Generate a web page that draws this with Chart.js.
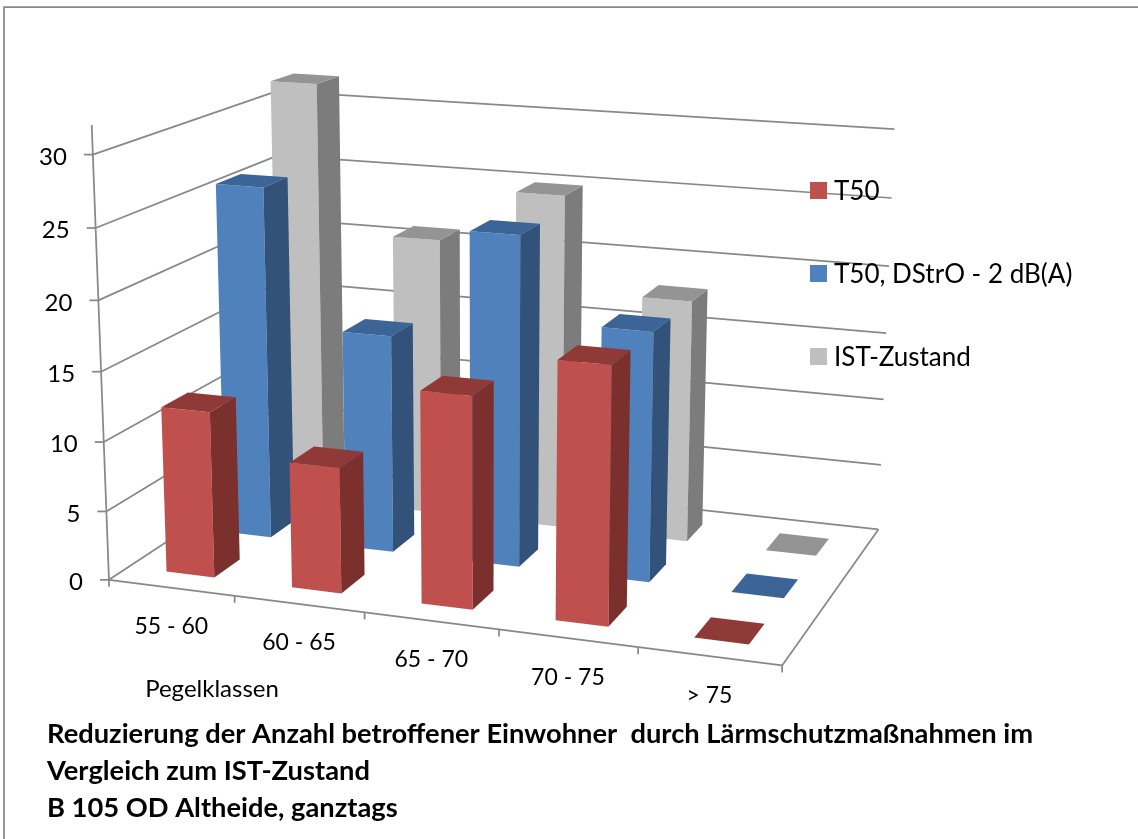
<!DOCTYPE html>
<html>
<head>
<meta charset="utf-8">
<title>Pegelklassen</title>
<script src="https://cdn.jsdelivr.net/npm/chart.js@4"></script>
<style>
  html, body { margin: 0; padding: 0; background: #fff; }
  canvas { display: block; }
</style>
</head>
<body>
<canvas id="myChart" width="1138" height="839"></canvas>
<script>
// categories and series
var categories = ['55 - 60', '60 - 65', '65 - 70', '70 - 75', '> 75'];
var t50 = [12, 9, 15, 18, 0];
var t50Dstro = [26, 16, 24, 18, 0];
var istZustand = [32, 21, 25, 18, 0];
var yTicks = [0, 5, 10, 15, 20, 25, 30];
var yMax = 32;
var titleLines = [
    'Reduzierung der Anzahl betroffener Einwohner  durch Lärmschutzmaßnahmen im',
    'Vergleich zum IST-Zustand',
    'B 105 OD Altheide, ganztags'
];

// face colours: front, side, top
var red = ['#C0504D', '#7C302E', '#8F3A37'];
var blue = ['#4F81BD', '#325279', '#3C6496'];
var grey = ['#BFBFBF', '#7C7C7C', '#949494'];
var lineColor = '#888888';
var fontName = 'Lato, "Noto Sans", sans-serif';

// depth of each series on the floor, 0 = front edge, 1 = back wall
var depthCentres = [0.17, 0.49, 0.815];
var depthHalf = 0.07;

// camera calibration: [along, depth, height] -> [screen x, screen y]
var h30 = 30 / yMax;
var calib = [
    [0, 0, 0, 109, 578], [1, 0, 0, 783, 666], [1, 1, 0, 878, 529], [0, 1, 0, 284, 466],
    [0, 0, h30, 92, 156], [1, 1, h30, 894, 129], [0, 1, h30, 278, 90]
];

// least squares for the 3x4 projection matrix
function solveCamera(pts) {
    var n = 11, A = [], i, j, k;
    for (i = 0; i < n; i++) { A.push(new Array(n + 1).fill(0)); }
    function addRow(r, b) {
        for (var a = 0; a < n; a++) {
            for (var c = 0; c < n; c++) { A[a][c] += r[a] * r[c]; }
            A[a][n] += r[a] * b;
        }
    }
    pts.forEach(function(p) {
        addRow([p[0], p[1], p[2], 1, 0, 0, 0, 0, -p[3] * p[0], -p[3] * p[1], -p[3] * p[2]], p[3]);
        addRow([0, 0, 0, 0, p[0], p[1], p[2], 1, -p[4] * p[0], -p[4] * p[1], -p[4] * p[2]], p[4]);
    });
    for (i = 0; i < n; i++) {
        var best = i;
        for (j = i + 1; j < n; j++) { if (Math.abs(A[j][i]) > Math.abs(A[best][i])) best = j; }
        var tmp = A[i]; A[i] = A[best]; A[best] = tmp;
        for (j = 0; j < n; j++) {
            if (j === i) continue;
            var f = A[j][i] / A[i][i];
            for (k = i; k <= n; k++) { A[j][k] -= f * A[i][k]; }
        }
    }
    return A.map(function(row, r) { return row[n] / row[r]; });
}
var cam = solveCamera(calib);

function project(u, d, h) {
    var w = cam[8] * u + cam[9] * d + cam[10] * h + 1;
    return [
        (cam[0] * u + cam[1] * d + cam[2] * h + cam[3]) / w,
        (cam[4] * u + cam[5] * d + cam[6] * h + cam[7]) / w
    ];
}

function line(ctx, a, b) {
    ctx.beginPath();
    ctx.moveTo(a[0], a[1]);
    ctx.lineTo(b[0], b[1]);
    ctx.stroke();
}

function face(ctx, pts, color) {
    ctx.fillStyle = color;
    ctx.beginPath();
    pts.forEach(function(p, i) {
        if (i === 0) ctx.moveTo(p[0], p[1]); else ctx.lineTo(p[0], p[1]);
    });
    ctx.closePath();
    ctx.fill();
}

// walls, floor and axes in the tilted view
function drawFrame(chart) {
    var ctx = chart.ctx, x = chart.scales.x, y = chart.scales.y;
    var hOf = function(v) { return (y.bottom - y.getPixelForValue(v)) / y.height; };

    ctx.save();
    ctx.strokeStyle = lineColor;
    ctx.lineWidth = 1.75;
    // outer frame only shows on the top and left
    ctx.beginPath();
    ctx.moveTo(4, 839);
    ctx.lineTo(4, 7);
    ctx.lineTo(1138, 7);
    ctx.stroke();

    y.ticks.forEach(function(t) {
        var h = hOf(t.value);
        var p0 = project(0, 0, h), p1 = project(0, 1, h), p2 = project(1, 1, h);
        line(ctx, p0, p1);
        line(ctx, p1, p2);
        line(ctx, [p0[0] - 9, p0[1]], p0);
        ctx.fillStyle = '#000';
        ctx.font = '24px ' + fontName;
        ctx.textAlign = 'right';
        ctx.textBaseline = 'middle';
        ctx.fillText(t.value, p0[0] - 26, p0[1] + 2.5);
    });
    line(ctx, project(0, 0, 0), project(0, 0, 1));
    line(ctx, project(0, 0, 0), project(1, 0, 0));
    line(ctx, project(1, 0, 0), project(1, 1, 0));

    var n = categories.length;
    for (var i = 0; i <= n; i++) {
        var p = project(i / n, 0, 0);
        line(ctx, p, [p[0], p[1] + 7]);
    }
    categories.forEach(function(c, i) {
        var u = (x.getPixelForValue(i) - x.left) / x.width;
        var p = project(u, 0, 0);
        ctx.fillStyle = '#000';
        ctx.font = '23px ' + fontName;
        ctx.textAlign = 'center';
        ctx.textBaseline = 'middle';
        ctx.fillText(c, p[0], p[1] + 39);
    });
    ctx.font = '24px ' + fontName;
    ctx.fillText('Pegelklassen', 212, 689);
    ctx.restore();
}

// one box per bar element, back row first
function drawBars(chart) {
    var ctx = chart.ctx, x = chart.scales.x, y = chart.scales.y;
    for (var s = chart.data.datasets.length - 1; s >= 0; s--) {
        var ds = chart.data.datasets[s];
        var d0 = depthCentres[s] - depthHalf, d1 = depthCentres[s] + depthHalf;
        chart.getDatasetMeta(s).data.forEach(function(bar) {
            var u0 = (bar.x - bar.width / 2 - x.left) / x.width;
            var u1 = (bar.x + bar.width / 2 - x.left) / x.width;
            var h = (y.bottom - bar.y) / y.height;
            var fb = project(u0, d0, 0), fbr = project(u1, d0, 0), bbr = project(u1, d1, 0);
            var ft = project(u0, d0, h), ftr = project(u1, d0, h), btr = project(u1, d1, h), bt = project(u0, d1, h);
            face(ctx, [fb, fbr, ftr, ft], ds.faces[0]);
            face(ctx, [fbr, bbr, btr, ftr], ds.faces[1]);
            face(ctx, [ft, ftr, btr, bt], ds.faces[2]);
        });
    }
}

// legend sits on top of the wall lines
function drawLegend(chart) {
    var ctx = chart.ctx;
    ctx.save();
    ctx.font = '26px ' + fontName;
    ctx.textAlign = 'left';
    ctx.textBaseline = 'middle';
    chart.data.datasets.forEach(function(ds, i) {
        var top = 182 + i * 83;
        ctx.fillStyle = ds.backgroundColor;
        ctx.fillRect(810, top, 17, 17);
        ctx.fillStyle = '#000';
        ctx.fillText(ds.label, 834, top + 9.5);
    });
    ctx.restore();
}

var box3d = {
    id: 'box3d',
    beforeDatasetsDraw: function(chart) {
        drawFrame(chart);
        drawBars(chart);
        drawLegend(chart);
        return false;
    }
};

var ctx = document.getElementById('myChart').getContext('2d');
var chart = new Chart(ctx, {
    type: 'bar',
    plugins: [box3d],
    data: {
        labels: categories,
        datasets: [
            { label: 'T50', data: t50, backgroundColor: red[0], faces: red },
            { label: 'T50, DStrO - 2 dB(A)', data: t50Dstro, backgroundColor: blue[0], faces: blue },
            { label: 'IST-Zustand', data: istZustand, backgroundColor: grey[0], faces: grey }
        ]
    },
    options: {
        responsive: false,
        animation: false,
        layout: { padding: { left: 47, right: 7, top: 20, bottom: 12.5 } },
        datasets: { bar: { grouped: false, categoryPercentage: 1, barPercentage: 0.385 } },
        scales: {
            x: { display: false },
            y: {
                display: false,
                min: 0,
                max: yMax,
                afterBuildTicks: function(axis) {
                    axis.ticks = yTicks.map(function(v) { return { value: v }; });
                }
            }
        },
        plugins: {
            tooltip: { enabled: false },
            legend: { display: false },
            title: {
                display: true,
                position: 'bottom',
                align: 'start',
                text: titleLines,
                color: '#000',
                padding: 0,
                font: { family: fontName, size: 27.3, weight: 'bold', lineHeight: 1.355 }
            }
        }
    }
});
</script>
</body>
</html>
